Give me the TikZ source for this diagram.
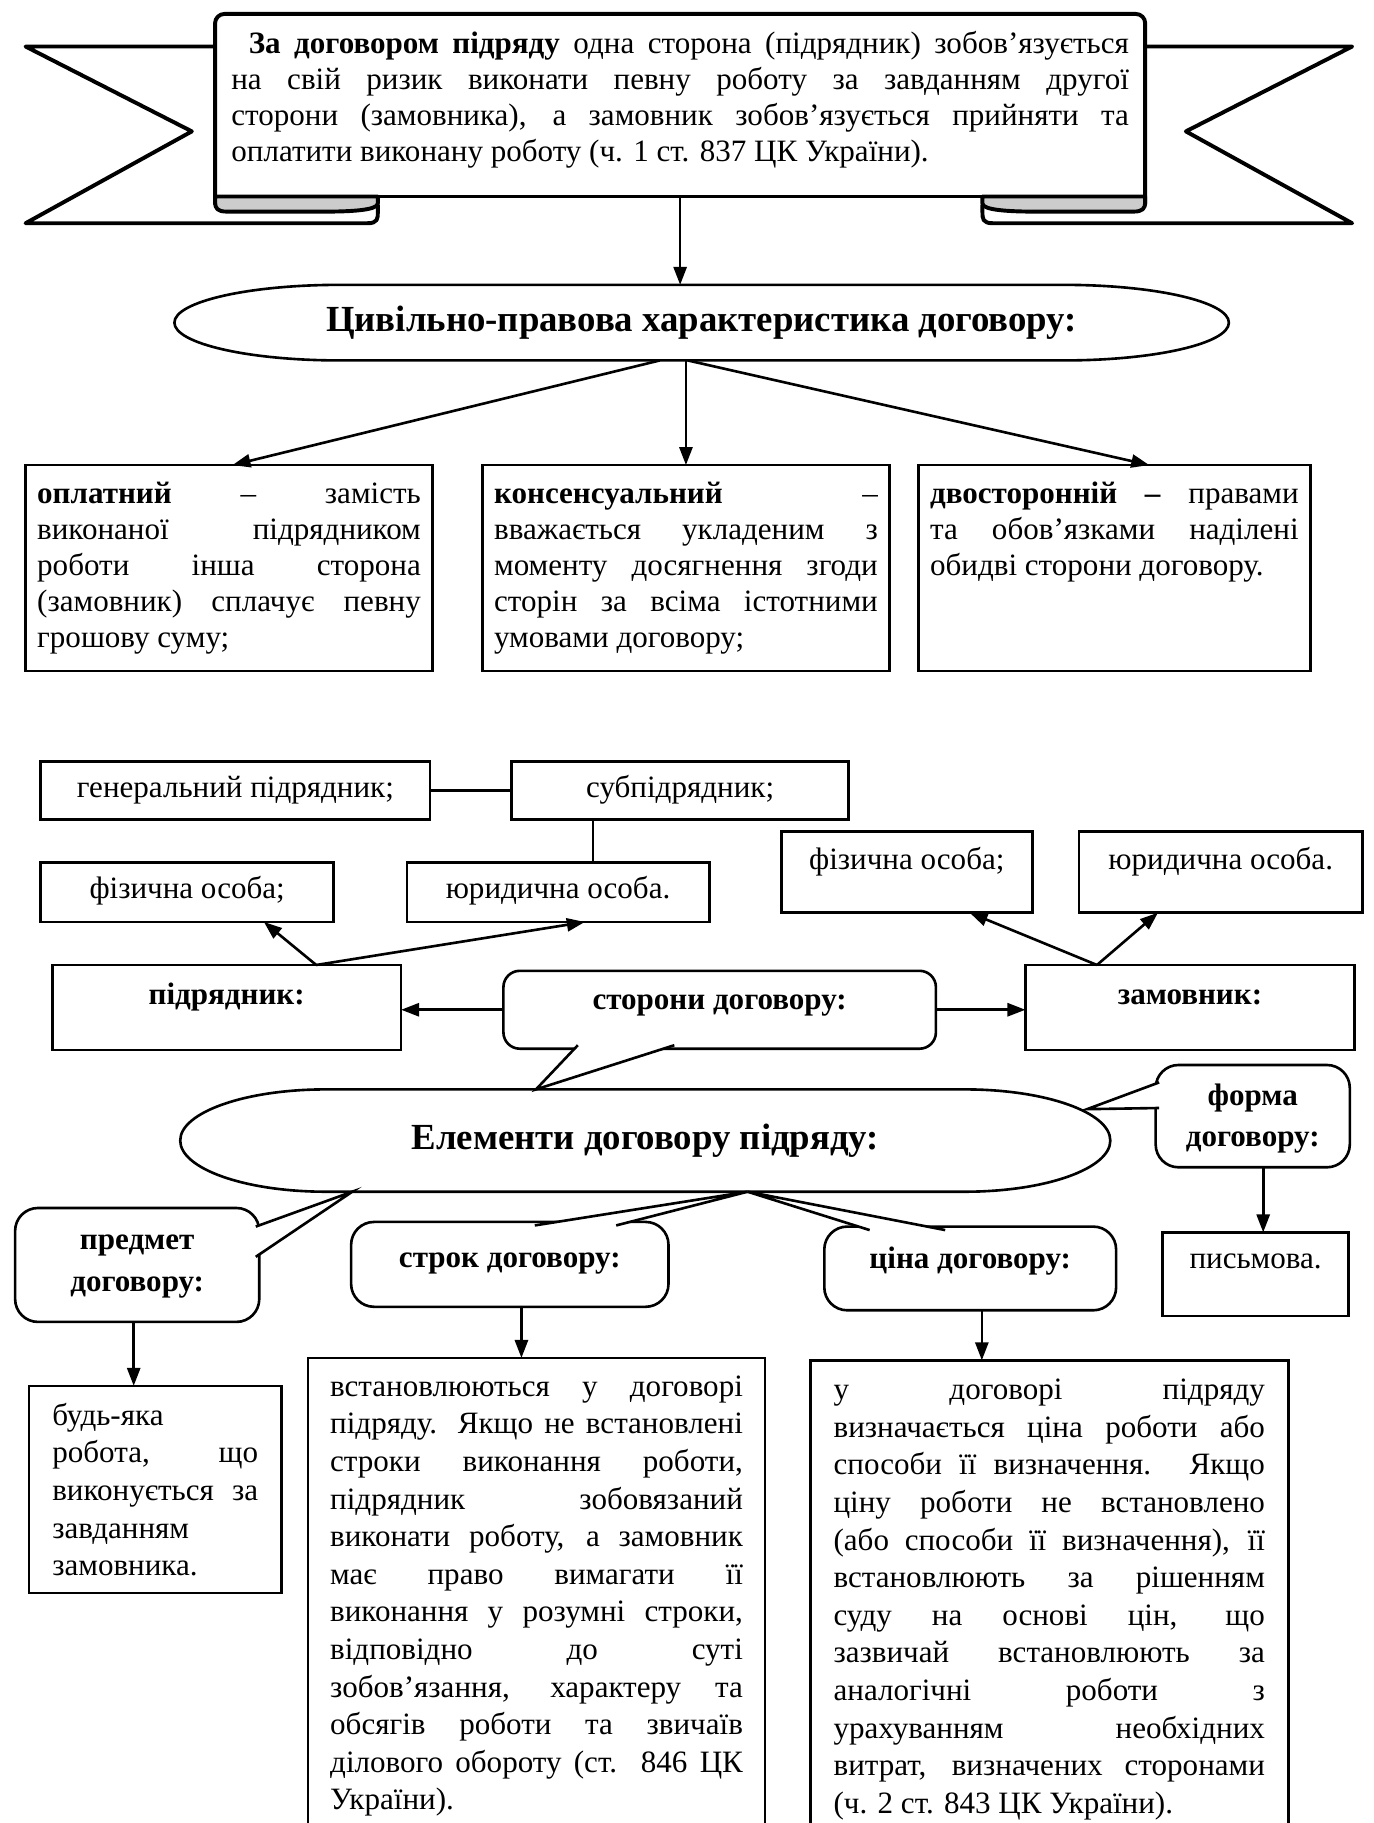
\documentclass[tikz,border=0pt]{standalone}
\usepackage{fontspec}
\setmainfont{Liberation Serif}
\usetikzlibrary{arrows.meta, positioning, calc}
\newlength\unitpx
\setlength\unitpx{0.025cm}
\newcommand\bodyfont{\fontsize{19}{22}\selectfont}
\newcommand\titlefont{\fontsize{22.5}{26}\selectfont\bfseries}
\newcommand\boxtext[4]{\parbox[c][#2\unitpx][t]{#1\unitpx}{\vspace*{#3\unitpx}#4}}
\newcommand\jusline[1]{\hbox to\linewidth{\strut #1}}
\newcommand\lefline[1]{\hbox to\linewidth{\strut #1\hfil}}
\newcommand\cenline[1]{\hbox to\linewidth{\strut\hfil #1\hfil}}
\hyphenpenalty=10000
\exhyphenpenalty=10000
\begin{document}
\begin{tikzpicture}[x=0.025cm, y=0.025cm,
  box/.style={draw, line width=1.6pt, inner xsep=10\unitpx, inner ysep=0pt, outer sep=0pt, anchor=north west, font=\bodyfont},
  bub/.style={box, rounded corners=14pt},
  ovalnode/.style={inner sep=0pt, outer sep=0pt, font=\titlefont},
  rib/.style={line width=2.4pt, line join=round},
  arr/.style={line width=1.6pt, -{Triangle[length=11pt, width=8pt]}},
  lnk/.style={line width=1.6pt},
  tailpart/.style={line width=1.6pt, fill=white, line join=miter},
]
\useasboundingbox (0,0) rectangle (1181,-1568);

% ribbon
\draw[rib] (185,-40) -- (22,-40) -- (165,-113) -- (22,-192) -- (316,-192) .. controls (325,-192) and (325,-188) .. (325,-182) -- (325,-169);
\draw[rib] (985,-40) -- (1163,-40) -- (1020,-113) -- (1163,-192) -- (854,-192) .. controls (845,-192) and (845,-188) .. (845,-182) -- (845,-169);
\filldraw[rib, fill=white] (185,-176) -- (185,-20) arc[start angle=180, end angle=90, radius=8] -- (977,-12) arc[start angle=90, end angle=0, radius=8] -- (985,-176);
\draw[rib] (185,-169) -- (985,-169);
\filldraw[rib, fill=gray!40] (185,-169) -- (325,-169) -- (325,-175) .. controls (325,-181) and (300,-182) .. (280,-182) -- (195,-182) .. controls (187,-182) and (185,-179) .. (185,-174) -- cycle;
\filldraw[rib, fill=gray!40] (985,-169) -- (845,-169) -- (845,-175) .. controls (845,-181) and (870,-182) .. (890,-182) -- (975,-182) .. controls (983,-182) and (985,-179) .. (985,-174) -- cycle;
\node[box, draw=none, inner xsep=14\unitpx] (panel) at (185,-12) {\boxtext{772}{157}{12.3}{%
  \jusline{\hspace*{15\unitpx}\textbf{За договором підряду} одна сторона (підрядник) зобов’язується}
  \jusline{на свій ризик виконати певну роботу за завданням другої}
  \jusline{сторони (замовника), а замовник зобов’язується прийняти та}
  \lefline{оплатити виконану роботу (ч. 1 ст. 837 ЦК України).}}};

% characteristics
\node[ovalnode, minimum width=907\unitpx, minimum height=65\unitpx] (char) at (603.5,-277.5) {Цивільно-правова характеристика договору:};
\draw[lnk] ($(char.north east)+(-142,0)$) arc[start angle=90, end angle=-90, x radius=142, y radius=32.5] -- ($(char.south west)+(142,0)$) arc[start angle=270, end angle=90, x radius=142, y radius=32.5] -- cycle;
\draw[arr] (panel.south) -- (panel.south |- char.north);

\node[box] (oplat) at (22,-400) {\boxtext{330}{177}{11.3}{%
  \jusline{\textbf{оплатний} – замість}
  \jusline{виконаної підрядником}
  \jusline{роботи інша сторона}
  \jusline{(замовник) сплачує певну}
  \lefline{грошову суму;}}};
\node[box] (kons) at (415,-400) {\boxtext{330}{177}{11.3}{%
  \jusline{\textbf{консенсуальний} –}
  \jusline{вважається укладеним з}
  \jusline{моменту досягнення згоди}
  \jusline{сторін за всіма істотними}
  \lefline{умовами договору;}}};
\node[box] (dvost) at (790,-400) {\boxtext{317}{177}{11.3}{%
  \jusline{\textbf{двосторонній –} правами}
  \jusline{та обов’язками наділені}
  \lefline{обидві сторони договору.}}};

\draw[arr] ($(char.south)+(-36,0)$) -- ($(oplat.north)+(3,0)$);
\draw[arr] (kons.north |- char.south) -- (kons.north);
\draw[arr] ($(char.south)+(-12,0)$) -- ($(dvost.north)+(30,0)$);

% parties
\node[box] (gen) at (35,-655) {\boxtext{315}{50}{9.3}{\cenline{генеральний підрядник;}}};
\node[box] (sub) at (440,-655) {\boxtext{270}{50}{9.3}{\cenline{субпідрядник;}}};
\node[box] (fizL) at (35,-742) {\boxtext{232}{51}{9.3}{\cenline{фізична особа;}}};
\node[box] (jurL) at (350,-742) {\boxtext{240}{51}{9.3}{\cenline{юридична особа.}}};
\node[box] (fizR) at (672,-715) {\boxtext{196}{70}{11.3}{\cenline{фізична особа;}}};
\node[box] (jurR) at (928,-715) {\boxtext{224}{70}{11.3}{\cenline{юридична особа.}}};
\node[box] (pidr) at (45,-830) {\boxtext{280}{73}{12.3}{\cenline{\bfseries підрядник:}}};
\node[box] (zam) at (882,-830) {\boxtext{263}{73}{12.3}{\cenline{\bfseries замовник:}}};

\draw[lnk] (gen) -- (sub);
\draw[lnk] ($(jurL.north)+(30,0)$) coordinate (j) -- (j |- sub.south);
\draw[arr] ($(pidr.north)+(77,0)$) -- ($(fizL.south)+(66,0)$);
\draw[arr] ($(pidr.north)+(77,0)$) -- ($(jurL.south)+(23,0)$);
\draw[arr] ($(zam.north)+(-80,0)$) -- ($(fizR.south)+(54,0)$);
\draw[arr] ($(zam.north)+(-80,0)$) -- ($(jurR.south)+(-54,0)$);

% elements
\node[ovalnode, minimum width=800\unitpx, minimum height=88\unitpx] (elem) at (555,-981) {Елементи договору підряду:};
\draw[lnk] ($(elem.north east)+(-125,0)$) arc[start angle=90, end angle=-90, x radius=125, y radius=44] -- ($(elem.south west)+(125,0)$) arc[start angle=270, end angle=90, x radius=125, y radius=44] -- cycle;

\node[bub, rounded corners=10pt] (storony) at (433,-835) {\boxtext{352}{67}{11.3}{\cenline{\bfseries сторони договору:}}};
\filldraw[tailpart] ($(storony.south west)+(64,3)$) -- ($(elem.north west)+(306,0)$) -- ($(storony.south west)+(147,3)$);
\draw[arr] (storony.west) -- (storony.west -| pidr.east);
\draw[arr] (storony.east) -- (storony.east -| zam.west);

\node[bub, font=\fontsize{19}{24.8}\selectfont] (forma) at (994,-916) {\boxtext{147}{88}{10.5}{\cenline{\bfseries форма}\cenline{\bfseries договору:}}};
\filldraw[tailpart] ($(forma.north west)+(3,-15)$) -- ($(elem.east)+(-20,27)$) -- ($(forma.north west)+(3,-37)$);
\node[box] (pysm) at (1000,-1060) {\boxtext{140}{72}{9.3}{\cenline{письмова.}}};
\draw[arr] ($(forma.south)+(9,0)$) coordinate (f) -- (f |- pysm.north);

\node[bub, font=\fontsize{19}{25.5}\selectfont] (predmet) at (13,-1039) {\boxtext{190}{98}{10.8}{\cenline{\bfseries предмет}\cenline{\bfseries договору:}}};
\filldraw[tailpart] ($(predmet.north east)+(-3,-16)$) -- ($(elem.south west)+(148,0)$) -- ($(predmet.north east)+(-3,-42)$);
\node[bub] (strok) at (302,-1051) {\boxtext{253}{73}{17.3}{\cenline{\bfseries строк договору:}}};
\filldraw[tailpart] ($(strok.north west)+(158,-3)$) -- ($(elem.south west)+(488,0)$) -- ($(strok.north west)+(228,-3)$);
\node[bub] (cina) at (709,-1055) {\boxtext{231}{72}{14.3}{\cenline{\bfseries ціна договору:}}};
\filldraw[tailpart] ($(cina.north west)+(39,-3)$) -- ($(elem.south west)+(488,0)$) -- ($(cina.north west)+(104,-3)$);

\node[box, inner xsep=20\unitpx, font=\fontsize{19}{23}\selectfont] (budj) at (25,-1192) {\boxtext{177}{178}{11.3}{%
  \lefline{будь-яка}
  \jusline{робота, що}
  \jusline{виконується за}
  \lefline{завданням}
  \lefline{замовника.}}};
\node[box, inner xsep=19\unitpx, font=\fontsize{19}{23}\selectfont] (strokT) at (265,-1168) {\boxtext{355}{404}{10.3}{%
  \jusline{встановлюються у договорі}
  \jusline{підряду. Якщо не встановлені}
  \jusline{строки виконання роботи,}
  \jusline{підрядник зобовязаний}
  \jusline{виконати роботу, а замовник}
  \jusline{має право вимагати її}
  \jusline{виконання у розумні строки,}
  \jusline{відповідно до суті}
  \jusline{зобов’язання, характеру та}
  \jusline{обсягів роботи та звичаїв}
  \jusline{ділового обороту (ст. 846 ЦК}
  \lefline{України).}}};
\node[box, inner xsep=20\unitpx, font=\fontsize{19}{23}\selectfont] (cinaT) at (697,-1170) {\boxtext{371}{402}{11.3}{%
  \jusline{у договорі підряду}
  \jusline{визначається ціна роботи або}
  \jusline{способи її визначення. Якщо}
  \jusline{ціну роботи не встановлено}
  \jusline{(або способи її визначення), її}
  \jusline{встановлюють за рішенням}
  \jusline{суду на основі цін, що}
  \jusline{зазвичай встановлюють за}
  \jusline{аналогічні роботи з}
  \jusline{урахуванням необхідних}
  \jusline{витрат, визначених сторонами}
  \lefline{(ч. 2 ст. 843 ЦК України).}}};

\draw[arr] ($(predmet.south)+(-3,0)$) coordinate (p) -- (p |- budj.north);
\draw[arr] ($(strok.south)+(10,0)$) coordinate (s) -- (s |- strokT.north);
\draw[arr] ($(cina.south)+(10,0)$) coordinate (c) -- (c |- cinaT.north);
\end{tikzpicture}
\end{document}
